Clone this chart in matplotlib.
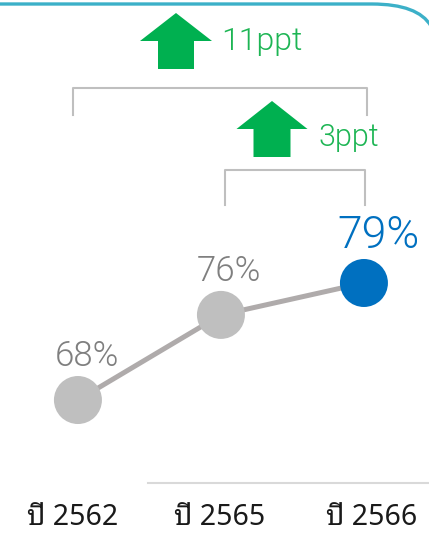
import matplotlib
matplotlib.use("Agg")
import matplotlib.pyplot as plt
from matplotlib.patches import Polygon, PathPatch
from matplotlib.path import Path

# ---- data ----
categories = ["ปี 2562", "ปี 2565", "ปี 2566"]
values = [68, 76, 79]
value_labels = ["68%", "76%", "79%"]
change_labels = ["11ppt", "3ppt"]

label_family = ["Noto Sans Thai Looped", "Roboto", "DejaVu Sans"]
num_family = ["Roboto", "DejaVu Sans"]

W, H = 429, 533
fig = plt.figure(figsize=(W / 100, H / 100), dpi=100)
ax = fig.add_axes([0, 0, 1, 1])
ax.set_xlim(-0.545, 2.455)
ax.set_ylim(55.5, 105.6)
ax.axis("off")

xs = list(range(len(values)))
ax.plot(xs, values, color="#AFABAB", lw=3.6, zorder=1, solid_capstyle="butt")
colors = ["#BFBFBF", "#BFBFBF", "#0070C0"]
ax.scatter(xs, values, s=(48 * 0.72) ** 2, c=colors, zorder=2, linewidths=0)

lab_colors = ["#7F7F7F", "#7F7F7F", "#0070C0"]
lab_sizes = [25, 25, 32]
lab_offsets = [(9, 27), (8, 27), (15, 26)]
for x, v, t, c, s, off in zip(xs, values, value_labels, lab_colors, lab_sizes, lab_offsets):
    ax.annotate(t, (x, v), xytext=off, textcoords="offset pixels",
                ha="center", va="bottom", color=c, fontsize=s,
                family=num_family, fontweight=300)

lx_off = [-5, -1, 8]
for x, t, dx in zip(xs, categories, lx_off):
    ax.annotate(t, (x, 55.5), xytext=(dx, 1), textcoords="offset pixels",
                ha="center", va="bottom", color="#1a1a1a", fontsize=20.5,
                family=label_family, fontweight=300)

# ---- overlay in pixel coordinates for decorations ----
ov = fig.add_axes([0, 0, 1, 1], facecolor="none")
ov.set_xlim(0, W)
ov.set_ylim(H, 0)
ov.axis("off")

verts = [(0, 4), (372, 4), (418, 4), (431, 26)]
codes = [Path.MOVETO, Path.LINETO, Path.CURVE3, Path.CURVE3]
ov.add_patch(PathPatch(Path(verts, codes), fill=False, edgecolor="#3CB0C8", lw=2.4))

ov.plot([148, 429], [483, 483], color="#D9D9D9", lw=1.5)

bc = "#BFBFBF"
ov.plot([73, 73, 367, 367], [115, 88, 88, 115], color=bc, lw=1.5)
ov.plot([225, 225, 365, 365], [205, 170, 170, 205], color=bc, lw=1.5)

def up_arrow(cx, top, bottom, head_w, head_h, shaft_w):
    pts = [(cx, top), (cx + head_w / 2, top + head_h), (cx + shaft_w / 2, top + head_h),
           (cx + shaft_w / 2, bottom), (cx - shaft_w / 2, bottom),
           (cx - shaft_w / 2, top + head_h), (cx - head_w / 2, top + head_h)]
    ov.add_patch(Polygon(pts, closed=True, color="#00B050", lw=0))

up_arrow(176, 13, 69, 72, 28, 36)
up_arrow(272, 101, 157, 71, 28, 37)

ov.text(221, 41, change_labels[0], color="#1DB554", fontsize=23, va="center", ha="left",
        family=num_family, fontweight=300)
ov.text(319, 138, change_labels[1], color="#1DB554", fontsize=22, va="center", ha="left",
        family=num_family, fontweight=300)

fig.savefig("out.png", dpi=100)
